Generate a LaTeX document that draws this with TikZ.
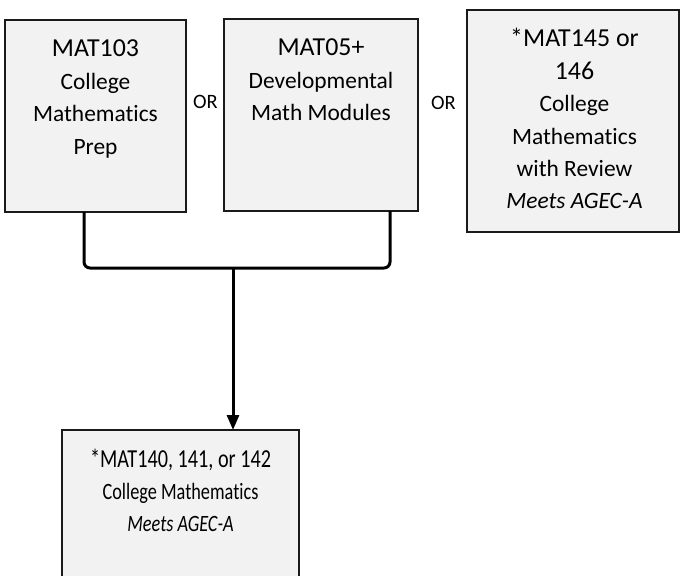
\documentclass[tikz,border=0pt]{standalone}
\usepackage{fontspec}
\setmainfont{Carlito}[Ligatures={NoCommon}]
\newfontfamily\condfont{Carlito}[FakeStretch=0.78,Ligatures={NoCommon}]
\usetikzlibrary{arrows.meta}
\definecolor{boxfill}{HTML}{F2F2F2}
\definecolor{boxline}{HTML}{1A1A1A}
\newcommand{\bigln}[1]{{\fontsize{26}{32.5}\selectfont #1}}
\newcommand{\firststrut}{\rule{0pt}{30bp}}
\tikzset{
  boxnode/.style={draw=boxline, line width=2bp, fill=boxfill, inner sep=0pt, outer sep=0pt},
  txtnode/.style={align=center, inner sep=0pt, outer sep=0pt, anchor=north, font=\fontsize{23.5}{32.5}\selectfont},
  ornode/.style={inner sep=0pt, anchor=base, font=\fontsize{20.5}{22}\selectfont},
  bracket/.style={draw=black, line width=3bp, rounded corners=6bp},
  arrowline/.style={draw=black, line width=3bp, -{Triangle[length=15bp,width=12bp]}}
}
\begin{document}
\begin{tikzpicture}[x=1bp,y=-1bp]
\useasboundingbox (0,0) rectangle (680,576);
\clip (0,0) rectangle (680,576);
% boxes
\node[boxnode, minimum width=181bp, minimum height=192bp] (b1) at (95.5,116) {};
\node[boxnode, minimum width=194bp, minimum height=192bp] (b2) at (321,115) {};
\node[boxnode, minimum width=212bp, minimum height=222bp] (b3) at (572.5,121) {};
\node[boxnode, minimum width=237bp, minimum height=220bp] (b4) at (180.5,540) {};
% texts
\node[txtnode] (t1) at ([yshift=-7bp]b1.north) {\firststrut\bigln{MAT103}\\College\\Mathematics\\Prep};
\node[txtnode] (t2) at ([yshift=-7bp]b2.north) {\firststrut\bigln{MAT05+}\\Developmental\\Math Modules};
\node[txtnode] (t3) at ([xshift=2bp,yshift=-7bp]b3.north) {\firststrut\bigln{*MAT145 or}\\\bigln{146}\\College\\Mathematics\\with Review\\\textit{Meets AGEC-A}};
\node[txtnode, font=\condfont\fontsize{23.5}{32.5}\selectfont] (t4) at ([yshift=-7bp]b4.north) {\firststrut{\fontsize{26}{32.5}\selectfont *MAT140, 141, or 142}\\College Mathematics\\\textit{Meets AGEC-A}};
% OR labels
\node[ornode] (or1) at (205.5,108.5) {OR};
\node[ornode] (or2) at (443.5,110) {OR};
% connectors
\coordinate (jl) at ([xshift=-11.5bp]b1.south);
\coordinate (jr) at ([xshift=69bp]b2.south);
\coordinate (jm) at (233,268);
\draw[bracket] (jl) |- (jm) -| (jr);
\draw[arrowline] (jm) -- (jm |- b4.north);
\end{tikzpicture}
\end{document}
